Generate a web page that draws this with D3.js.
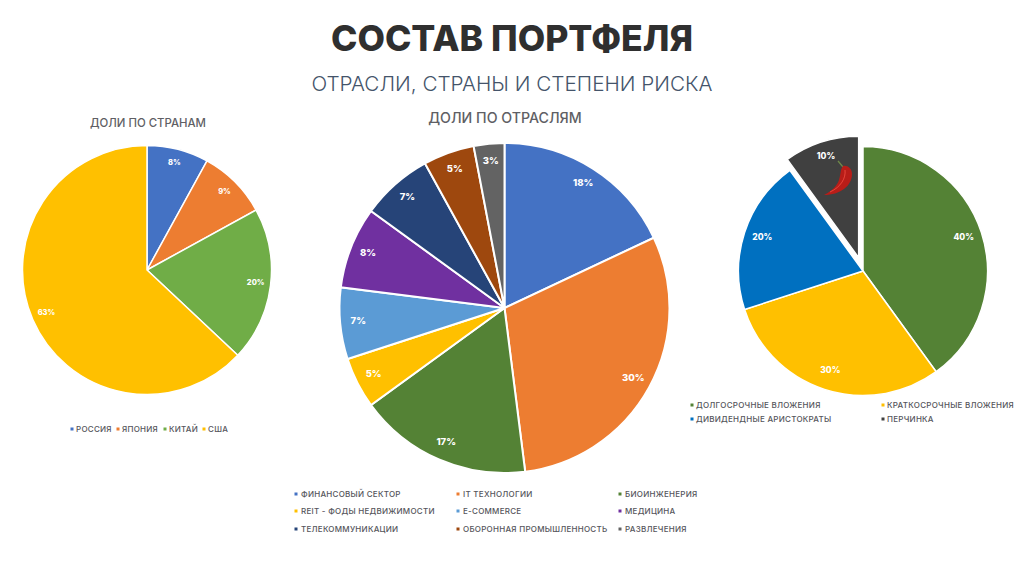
<!DOCTYPE html>
<html>
<head>
<meta charset="utf-8">
<script src="https://cdnjs.cloudflare.com/ajax/libs/d3/7.8.5/d3.min.js"></script>
<style>
  html, body { margin: 0; padding: 0; background: #fff; }
  svg { display: block; }
  text { font-family: Inter, "Noto Sans", sans-serif; }
  .legend text { fill: #55555b; font-weight: 500; font-size: 8px; letter-spacing: 0.26px; }
  .slice-label { fill: #fff; font-weight: 800; text-anchor: middle; dominant-baseline: central; }
  .pie-title { fill: #5f5f65; font-weight: 500; text-anchor: middle; }
</style>
</head>
<body>
<script>
// values
const countryNames = ["РОССИЯ", "ЯПОНИЯ", "КИТАЙ", "США"];
const countryValues = [8, 9, 20, 63];
const countryColors = ["#4472C4", "#ED7D31", "#70AD47", "#FFC000"];

const sectorNames = ["ФИНАНСОВЫЙ СЕКТОР", "IT ТЕХНОЛОГИИ", "БИОИНЖЕНЕРИЯ",
  "REIT - ФОДЫ НЕДВИЖИМОСТИ", "E-COMMERCE", "МЕДИЦИНА",
  "ТЕЛЕКОММУНИКАЦИИ", "ОБОРОННАЯ ПРОМЫШЛЕННОСТЬ", "РАЗВЛЕЧЕНИЯ"];
const sectorValues = [18, 30, 17, 5, 7, 8, 7, 5, 3];
const sectorColors = ["#4472C4", "#ED7D31", "#548235", "#FFC000", "#5B9BD5",
  "#7030A0", "#264478", "#9E480E", "#636363"];

const riskNames = ["ДОЛГОСРОЧНЫЕ ВЛОЖЕНИЯ", "КРАТКОСРОЧНЫЕ ВЛОЖЕНИЯ", "ДИВИДЕНДНЫЕ АРИСТОКРАТЫ", "ПЕРЧИНКА"];
const riskValues = [40, 30, 20, 10];
const riskColors = ["#548235", "#FFC000", "#0070C0", "#404040"];

const width = 1024, height = 576;
const svg = d3.select("body").append("svg").attr("width", width).attr("height", height);

// draws one pie, explode = index of the slice pulled out (or -1)
function drawPie(values, colors, cx, cy, r, labelSize, labelPos, strokeW, explode, explodeBy) {
  const pie = d3.pie().sort(null)(values);
  const arc = d3.arc().innerRadius(0).outerRadius((d, i) => d.index === explode ? r - 3 : r);
  const labelArc = d3.arc().innerRadius(r * labelPos).outerRadius(r * labelPos);
  const g = svg.append("g").attr("transform", "translate(" + cx + "," + cy + ")");

  const offset = (d, i) => {
    if (i !== explode) return [0, 0];
    const a = (d.startAngle + d.endAngle) / 2;
    return [Math.sin(a) * explodeBy, -Math.cos(a) * explodeBy];
  };

  const slices = g.selectAll("g").data(pie).join("g")
    .attr("transform", (d, i) => "translate(" + offset(d, i) + ")");

  slices.append("path")
    .attr("d", arc)
    .attr("fill", (d, i) => colors[i])
    .attr("stroke", "#fff")
    .attr("stroke-width", strokeW);

  slices.append("text")
    .attr("class", "slice-label")
    .attr("font-size", labelSize)
    .attr("dy", -1.5)
    .attr("transform", d => "translate(" + labelArc.centroid(d) + ")")
    .text(d => d.value + "%");
}

function drawLegend(names, colors, xs, ys, textGap) {
  const g = svg.append("g").attr("class", "legend");
  const items = g.selectAll("g").data(names).join("g")
    .attr("transform", (d, i) => "translate(" + xs[i] + "," + ys[i] + ")");
  items.append("rect")
    .attr("x", -1.5).attr("y", -1.5).attr("width", 3).attr("height", 3)
    .attr("fill", (d, i) => colors[i]);
  items.append("text")
    .attr("x", textGap)
    .attr("dy", "0.36em")
    .text(d => d);
}

// titles
svg.append("text").attr("x", 512).attr("y", 51)
  .attr("text-anchor", "middle").attr("font-size", 35.6).attr("font-weight", 800)
  .attr("fill", "#2f2f2f").text("СОСТАВ ПОРТФЕЛЯ");
svg.append("text").attr("x", 512).attr("y", 91)
  .attr("text-anchor", "middle").attr("font-size", 20.7).attr("font-weight", 300)
  .attr("fill", "#44546A").text("ОТРАСЛИ, СТРАНЫ И СТЕПЕНИ РИСКА");
svg.append("text").attr("class", "pie-title").attr("x", 148).attr("y", 127)
  .attr("font-size", 11.4).text("ДОЛИ ПО СТРАНАМ");
svg.append("text").attr("class", "pie-title").attr("x", 505).attr("y", 123)
  .attr("font-size", 14.2).text("ДОЛИ ПО ОТРАСЛЯМ");

// pies
drawPie(countryValues, countryColors, 147, 270, 124.5, 7.5, 0.88, 1.5, -1, 0);
drawPie(sectorValues, sectorColors, 504.5, 308, 165, 9.5, 0.89, 2, -1, 0);
drawPie(riskValues, riskColors, 863, 271, 124.5, 8.5, 0.85, 1.5, 3, 14);

// pepper on the exploded slice, decoration only
svg.append("path")
  .attr("d", "M838,161 L843,167")
  .attr("stroke", "#6f8a4a")
  .attr("stroke-width", 1.2)
  .attr("fill", "none");
svg.append("path")
  .attr("d", "M843,166 C847,165 852,168 852,174 C852,186 840,195 824,195 C832,191 837,186 839,180 C841,174 840,170 843,166 Z")
  .attr("fill", "#b81d18");
svg.append("path")
  .attr("d", "M845,170 C846,178 841,187 830,192")
  .attr("stroke", "#e8453a")
  .attr("stroke-width", 1)
  .attr("fill", "none");

// legends
drawLegend(countryNames, countryColors, [72, 118, 165, 204], [429, 429, 429, 429], 4);
const sectorX = d3.scaleOrdinal().domain([0, 1, 2]).range([296, 458, 620]);
const sectorY = d3.scaleOrdinal().domain([0, 1, 2]).range([494, 511, 529]);
drawLegend(sectorNames, sectorColors,
  sectorNames.map((d, i) => sectorX(i % 3)),
  sectorNames.map((d, i) => sectorY(Math.floor(i / 3))), 5);
drawLegend(riskNames, riskColors, [692, 883, 692, 883], [405, 405, 419, 419], 4);
</script>
</body>
</html>
